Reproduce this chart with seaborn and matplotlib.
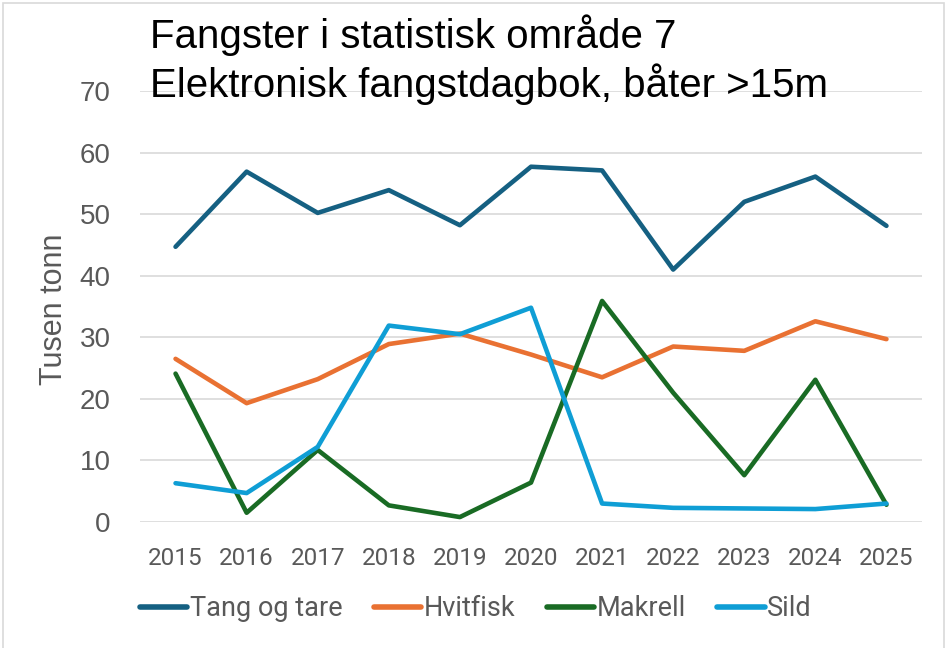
import matplotlib
matplotlib.use("Agg")
import matplotlib.pyplot as plt
import seaborn as sns
import pandas as pd
from matplotlib.patches import Rectangle

# Data (thousand tonnes)
years = [2015, 2016, 2017, 2018, 2019, 2020, 2021, 2022, 2023, 2024, 2025]
tang_og_tare = [44.7, 56.9, 50.2, 53.9, 48.2, 57.7, 57.1, 41.0, 52.0, 56.1, 48.1]
hvitfisk = [26.5, 19.3, 23.2, 28.9, 30.6, 27.2, 23.5, 28.5, 27.8, 32.6, 29.7]
makrell = [24.1, 1.5, 11.7, 2.7, 0.8, 6.4, 35.9, 21.0, 7.6, 23.1, 2.8]
sild = [6.3, 4.7, 12.2, 31.9, 30.5, 34.8, 3.0, 2.3, 2.2, 2.1, 3.0]

series = {
    "Tang og tare": tang_og_tare,
    "Hvitfisk": hvitfisk,
    "Makrell": makrell,
    "Sild": sild,
}
colors = {
    "Tang og tare": "#156082",
    "Hvitfisk": "#E97132",
    "Makrell": "#196B24",
    "Sild": "#0F9ED5",
}

df = pd.concat(
    [pd.DataFrame({"year": years, "value": v, "art": k}) for k, v in series.items()],
    ignore_index=True,
)

sns.set_style("white")
plt.rcParams["font.family"] = ["Liberation Sans", "DejaVu Sans"]
gray = "#595959"

fig = plt.figure(figsize=(9.47, 6.48), dpi=100)
ax = fig.add_axes([140 / 947, 1 - 522 / 648, 782 / 947, 431 / 648])

sns.lineplot(
    data=df,
    x="year",
    y="value",
    hue="art",
    hue_order=list(series.keys()),
    palette=colors,
    linewidth=3.3,
    ax=ax,
    legend=True,
)

ax.set_xlim(2014.5, 2025.5)
ax.set_ylim(0, 70)
ax.set_yticks(range(0, 71, 10))
ax.set_xticks(years)
ax.grid(axis="y", color="#D9D9D9", linewidth=1.2)
ax.grid(axis="x", visible=False)
ax.set_axisbelow(True)
for s in ax.spines.values():
    s.set_visible(False)
ax.tick_params(axis="both", length=0)
ax.tick_params(axis="y", pad=21, labelsize=20, labelcolor=gray)
ax.tick_params(axis="x", pad=18, labelsize=17.5, labelcolor=gray)
for lab in ax.get_xticklabels():
    lab.set_family("Roboto")

ax.set_xlabel("")
ax.set_ylabel("Tusen tonn", fontsize=22, color=gray, va="center")
ax.yaxis.set_label_coords((54 - 140) / 782, (522 - 309) / 431)

# legend at the bottom
handles, labels = ax.get_legend_handles_labels()
ax.legend_.remove()
leg = fig.legend(
    handles,
    labels,
    loc="center",
    bbox_to_anchor=(476 / 947, 1 - 609 / 648),
    ncol=4,
    frameon=False,
    handlelength=1.75,
    handletextpad=0.1,
    columnspacing=1.15,
    prop={"family": "Roboto", "size": 19.5},
)
for t in leg.get_texts():
    t.set_color(gray)
for h in leg.legend_handles:
    h.set_linewidth(4)

# title inside the plot area
fig.text(150 / 947, 1 - 48 / 648, "Fangster i statistisk område 7",
         fontsize=29, color="black", ha="left", va="baseline")
fig.text(150 / 947, 1 - 97 / 648, "Elektronisk fangstdagbok, båter >15m",
         fontsize=29, color="black", ha="left", va="baseline")

# light frame around the chart
fig.patches.append(Rectangle((3 / 947, -0.01), 941 / 947, 1 - 3 / 648 + 0.01,
                             transform=fig.transFigure, fill=False,
                             edgecolor="#D9D9D9", linewidth=1.2))

fig.savefig("out.png", dpi=100)
plt.close("all")
